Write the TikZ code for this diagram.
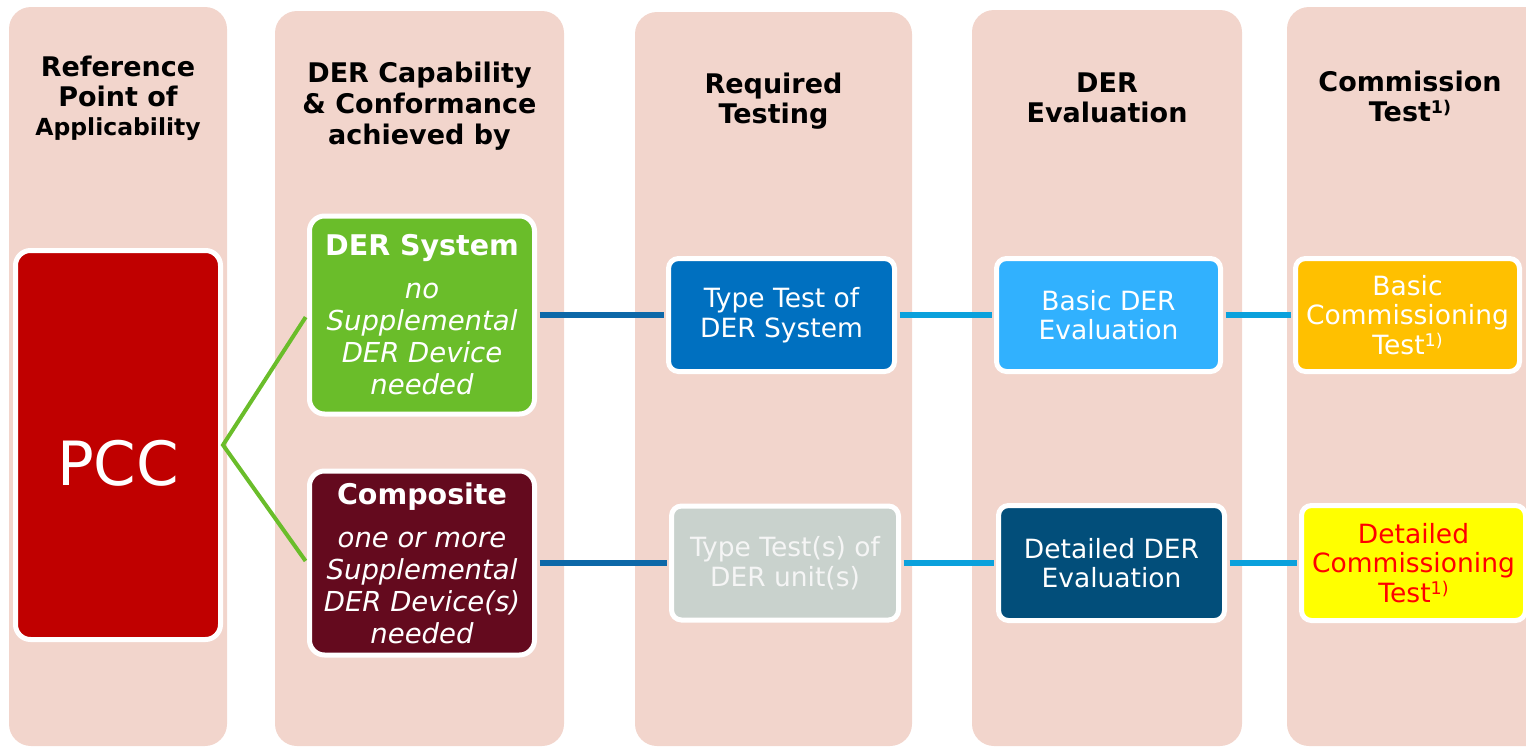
\documentclass[tikz,border=0pt]{standalone}
\usepackage{fontspec}
\setmainfont{DejaVu Sans}
\definecolor{colfill}{HTML}{F2D5CC}
\definecolor{dergreen}{HTML}{6ABD2A}
\definecolor{pccred}{HTML}{C00000}
\definecolor{maroondark}{HTML}{640A1E}
\definecolor{ttblue}{HTML}{0070C0}
\definecolor{skyblue}{HTML}{31B1FE}
\definecolor{amber}{HTML}{FFC000}
\definecolor{grayg}{HTML}{C9D2CD}
\definecolor{navyblue}{HTML}{024E7A}
\definecolor{pureyellow}{HTML}{FFFF00}
\definecolor{purered}{HTML}{FF0000}
\definecolor{linkdark}{HTML}{0D68A8}
\definecolor{linklight}{HTML}{0BA1DC}
\newcommand\supone{\raisebox{0.28em}{\fontsize{17.5}{17.5}\selectfont 1)}}
\begin{document}
\begin{tikzpicture}[x=1pt,y=-1pt,
  column/.style={fill=colfill, rounded corners=22pt},
  box/.style={draw=white, line width=5pt, rounded corners=10pt, inner sep=0pt,
    align=center, text=white, font=\fontsize{26.5}{29.5}\selectfont},
  bigbox/.style={box, rounded corners=15pt},
  head/.style={anchor=north, align=center, text=black, inner sep=0pt,
    font=\bfseries\fontsize{27}{30}\selectfont},
  glink/.style={draw=dergreen, line width=4pt, line join=miter,
    shorten <=2.5pt, shorten >=2.5pt},
  dlink/.style={draw=linkdark, line width=5.5pt, shorten <=2.5pt, shorten >=2.5pt},
  llink/.style={draw=linklight, line width=5.5pt, shorten <=2.5pt, shorten >=2.5pt}
]
\useasboundingbox (0,0) rectangle (1526,747);
\clip (0,0) rectangle (1526,747);
% columns
\path[column] (9,7) rectangle (227,746);
\path[column] (275,11) rectangle (564,746);
\path[column] (635,12) rectangle (912,746);
\path[column] (972,10) rectangle (1242,746);
\path[column] (1287,7) rectangle (1570,746);
% headers
\node[head] (h1) at (118,55.5) {Reference\\Point of\\[-1pt]{\fontsize{23.5}{30}\selectfont Applicability}};
\node[head, font=\bfseries\fontsize{27}{31}\selectfont] (h2) at (419.5,61.5) {DER Capability\\\& Conformance\\achieved by};
\node[head] (h3) at (773.5,72.5) {Required\\Testing};
\node[head] (h4) at (1107,72.3) {DER\\Evaluation};
\node[head] (h5) at (1410,70.5) {Commission\\Test\supone};
% boxes
\node[bigbox, fill=pccred, minimum width=205pt, minimum height=389pt,
  font=\fontsize{61}{61}\selectfont] (pcc) at (118,445) {\raisebox{-40pt}[0pt][0pt]{PCC}};
\node[bigbox, fill=dergreen, minimum width=225pt, minimum height=198pt,
  font=\itshape\fontsize{27.5}{32}\selectfont] (dersys) at (422,315)
  {{\upshape\bfseries\fontsize{28.5}{32}\selectfont DER System}\\[11pt]no\\Supplemental\\DER Device\\needed};
\node[bigbox, fill=maroondark, minimum width=225pt, minimum height=184pt,
  font=\itshape\fontsize{27.5}{32}\selectfont] (comp) at (422,563)
  {{\upshape\bfseries\fontsize{28.5}{32}\selectfont Composite}\\[11pt]one or more\\Supplemental\\DER Device(s)\\needed};
\node[box, fill=ttblue, minimum width=226pt, minimum height=113pt] (tt) at (781.5,315) {Type Test of\\DER System};
\node[box, fill=grayg, text=white!96!black, minimum width=227pt, minimum height=114pt] (tts) at (785,563) {Type Test(s) of\\DER unit(s)};
\node[box, fill=skyblue, minimum width=224pt, minimum height=113pt] (be) at (1108.5,315) {Basic DER\\Evaluation};
\node[box, fill=navyblue, minimum width=226pt, minimum height=115pt] (de) at (1111.5,563) {Detailed DER\\Evaluation};
\node[box, fill=amber, minimum width=224pt, minimum height=113pt] (bc) at (1407.5,315) {Basic\\Commissioning\\Test\supone};
\node[box, fill=pureyellow, text=purered, minimum width=224pt, minimum height=115pt] (dc) at (1413.5,563) {Detailed\\Commissioning\\Test\supone};
% connectors
\draw[glink] (dersys.west) -- (pcc.east) -- (comp.west);
\draw[dlink] (dersys.east) -- (tt.west);
\draw[dlink] (comp.east) -- (tts.west);
\draw[llink] (tt.east) -- (be.west);
\draw[llink] (be.east) -- (bc.west);
\draw[llink] (tts.east) -- (de.west);
\draw[llink] (de.east) -- (dc.west);
\end{tikzpicture}
\end{document}
